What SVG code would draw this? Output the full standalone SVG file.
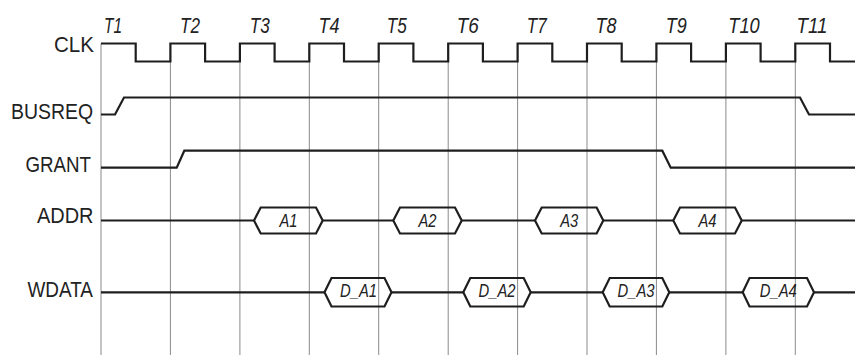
<svg xmlns="http://www.w3.org/2000/svg" width="855" height="356" viewBox="0 0 855 356">
<style>
.bg{fill:#fff}
.grid line{stroke:#8a8a8a;stroke-width:1}
.sig{fill:none;stroke:#1e1e1e;stroke-width:2.2;stroke-linejoin:miter}
.lbl{font-family:"Liberation Sans",Arial,sans-serif;font-size:21.5px;fill:#222;text-anchor:end}
.tl{font-family:"Liberation Sans",Arial,sans-serif;font-size:22px;font-style:italic;fill:#222;text-anchor:middle}
.bt{font-family:"Liberation Sans",Arial,sans-serif;font-size:18px;font-style:italic;fill:#222;text-anchor:middle}
</style>
<rect class="bg" x="0" y="0" width="855" height="356"/>
<g id="grid" class="grid">
<line x1="101" y1="43.5" x2="101" y2="355"/>
<line x1="170.4" y1="43.5" x2="170.4" y2="355"/>
<line x1="239.9" y1="43.5" x2="239.9" y2="355"/>
<line x1="309.3" y1="43.5" x2="309.3" y2="355"/>
<line x1="378.7" y1="43.5" x2="378.7" y2="355"/>
<line x1="448.2" y1="43.5" x2="448.2" y2="355"/>
<line x1="517.6" y1="43.5" x2="517.6" y2="355"/>
<line x1="587" y1="43.5" x2="587" y2="355"/>
<line x1="656.4" y1="43.5" x2="656.4" y2="355"/>
<line x1="725.9" y1="43.5" x2="725.9" y2="355"/>
<line x1="795.3" y1="43.5" x2="795.3" y2="355"/>
</g>
<g id="ticks">
<text class="tl" x="113" y="32.5" textLength="18" lengthAdjust="spacingAndGlyphs">T1</text>
<text class="tl" x="190" y="32.5" textLength="20" lengthAdjust="spacingAndGlyphs">T2</text>
<text class="tl" x="259.7" y="32.5" textLength="20" lengthAdjust="spacingAndGlyphs">T3</text>
<text class="tl" x="329" y="32.5" textLength="21" lengthAdjust="spacingAndGlyphs">T4</text>
<text class="tl" x="396.7" y="32.5" textLength="20" lengthAdjust="spacingAndGlyphs">T5</text>
<text class="tl" x="467.7" y="32.5" textLength="22" lengthAdjust="spacingAndGlyphs">T6</text>
<text class="tl" x="536.7" y="32.5" textLength="20" lengthAdjust="spacingAndGlyphs">T7</text>
<text class="tl" x="606" y="32.5" textLength="21" lengthAdjust="spacingAndGlyphs">T8</text>
<text class="tl" x="676.3" y="32.5" textLength="21" lengthAdjust="spacingAndGlyphs">T9</text>
<text class="tl" x="744" y="32.5" textLength="31.5" lengthAdjust="spacingAndGlyphs">T10</text>
<text class="tl" x="812" y="32.5" textLength="31" lengthAdjust="spacingAndGlyphs">T11</text>
</g>
<g id="clk">
<text class="lbl" x="94" y="51.7" textLength="40" lengthAdjust="spacingAndGlyphs">CLK</text>
<path class="sig" d="M101,43.5 H135.7 V61.5 H170.4 V43.5 H205.1 V61.5 H239.9 V43.5 H274.6 V61.5 H309.3 V43.5 H344 V61.5 H378.7 V43.5 H413.4 V61.5 H448.2 V43.5 H482.9 V61.5 H517.6 V43.5 H552.3 V61.5 H587 V43.5 H621.7 V61.5 H656.4 V43.5 H691.1 V61.5 H725.9 V43.5 H760.6 V61.5 H795.3 V43.5 H830 V61.5 H855"/>
</g>
<g id="busreq">
<text class="lbl" x="93" y="119.3" textLength="82" lengthAdjust="spacingAndGlyphs">BUSREQ</text>
<path class="sig" d="M101,114.5 H115 L124,97.5 H800 L809,114.5 H855"/>
</g>
<g id="grant">
<text class="lbl" x="91" y="171.7" textLength="65.5" lengthAdjust="spacingAndGlyphs">GRANT</text>
<path class="sig" d="M101,167.7 H176.7 L184.3,150.7 H662.3 L670.7,167.7 H855"/>
</g>
<g id="addr">
<text class="lbl" x="93.5" y="223.3" textLength="56.5" lengthAdjust="spacingAndGlyphs">ADDR</text>
<path class="sig" d="M101,220.5 H254 M322.7,220.5 H393.3 M461.7,220.5 H535 M603.3,220.5 H673.3 M741.7,220.5 H855"/>
<polygon class="sig" points="254,220.5 260.7,207.5 316,207.5 322.7,220.5 316,233.5 260.7,233.5"/>
<polygon class="sig" points="393.3,220.5 400,207.5 455,207.5 461.7,220.5 455,233.5 400,233.5"/>
<polygon class="sig" points="535,220.5 541.7,207.5 596.6,207.5 603.3,220.5 596.6,233.5 541.7,233.5"/>
<polygon class="sig" points="673.3,220.5 680,207.5 735,207.5 741.7,220.5 735,233.5 680,233.5"/>
<text class="bt" x="288.4" y="227.3" textLength="18" lengthAdjust="spacingAndGlyphs">A1</text>
<text class="bt" x="427.5" y="227.3" textLength="18" lengthAdjust="spacingAndGlyphs">A2</text>
<text class="bt" x="569.2" y="227.3" textLength="18" lengthAdjust="spacingAndGlyphs">A3</text>
<text class="bt" x="707.5" y="227.3" textLength="18" lengthAdjust="spacingAndGlyphs">A4</text>
</g>
<g id="wdata">
<text class="lbl" x="93" y="296.7" textLength="65.5" lengthAdjust="spacingAndGlyphs">WDATA</text>
<path class="sig" d="M101,292.3 H324.5 M391.5,292.3 H463.3 M530.7,292.3 H602.7 M669.3,292.3 H742.7 M814,292.3 H855"/>
<polygon class="sig" points="324.5,292.3 331.5,278 384.5,278 391.5,292.3 384.5,306.5 331.5,306.5"/>
<polygon class="sig" points="463.3,292.3 470.3,278 523.7,278 530.7,292.3 523.7,306.5 470.3,306.5"/>
<polygon class="sig" points="602.7,292.3 609.7,278 662.3,278 669.3,292.3 662.3,306.5 609.7,306.5"/>
<polygon class="sig" points="742.7,292.3 749.5,278 807,278 814,292.3 807,306.5 749.5,306.5"/>
<text class="bt" x="358.5" y="297.2" textLength="37" lengthAdjust="spacingAndGlyphs">D_A1</text>
<text class="bt" x="497" y="297.2" textLength="37" lengthAdjust="spacingAndGlyphs">D_A2</text>
<text class="bt" x="636" y="297.2" textLength="37" lengthAdjust="spacingAndGlyphs">D_A3</text>
<text class="bt" x="778.3" y="297.2" textLength="37" lengthAdjust="spacingAndGlyphs">D_A4</text>
</g>
</svg>
